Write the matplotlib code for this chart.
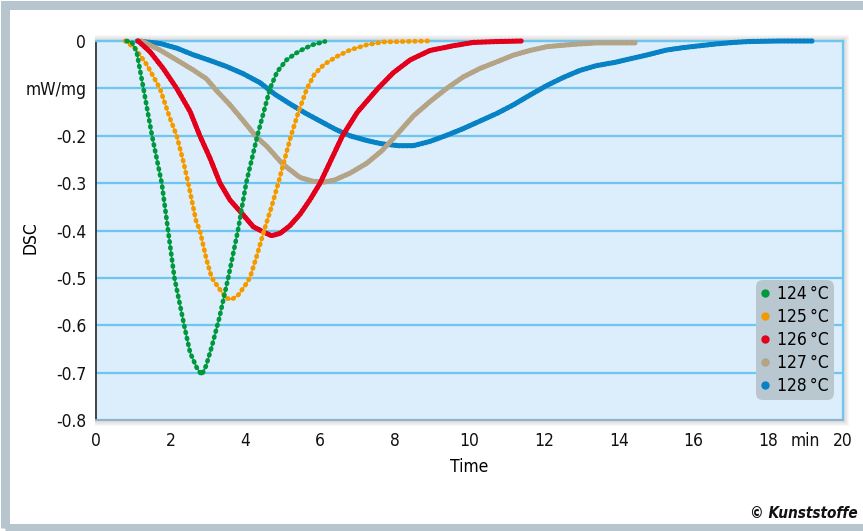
import matplotlib
matplotlib.use('Agg')
import numpy as np
import matplotlib.pyplot as plt
import matplotlib.patheffects as pe
from matplotlib.patches import Rectangle
from matplotlib.lines import Line2D

plt.rcParams['font.family'] = ['DejaVu Sans']
plt.rcParams['font.stretch'] = 'condensed'

# DSC curves, time in min, heat flow in mW/mg
t_124 = [0.82, 0.96, 1.09, 1.17, 1.27, 1.5, 1.76, 1.93, 2.1, 2.36, 2.52, 2.7, 2.83,
         2.95, 3.1, 3.3, 3.54, 3.8, 4.02, 4.32, 4.66, 4.85, 5.1, 5.35, 5.55, 5.8, 6.13]
dsc_124 = [0, -0.002, -0.023, -0.058, -0.1, -0.2, -0.3, -0.4, -0.5, -0.6, -0.658, -0.69, -0.705,
           -0.685, -0.645, -0.585, -0.5, -0.4, -0.3, -0.2, -0.1, -0.065, -0.04, -0.026, -0.017, -0.008, -0.001]

t_125 = [0.78, 1.04, 1.36, 1.71, 1.98, 2.16, 2.34, 2.47, 2.68, 2.78, 2.96, 3.1, 3.32, 3.5, 3.63,
         3.81, 4.0, 4.12, 4.3, 4.5, 4.7, 4.88, 5.05, 5.22, 5.42, 5.65, 5.85, 6.1, 6.44, 6.8,
         7.25, 7.7, 8.3, 8.9]
dsc_125 = [0, -0.015, -0.05, -0.1, -0.163, -0.2, -0.255, -0.3, -0.38, -0.4, -0.462, -0.5, -0.525,
           -0.543, -0.546, -0.536, -0.515, -0.5, -0.455, -0.4, -0.35, -0.3, -0.25, -0.2, -0.15,
           -0.1, -0.07, -0.05, -0.033, -0.019, -0.008, -0.002, -0.001, 0]

t_126 = [1.13, 1.45, 1.8, 2.16, 2.52, 2.78, 3.05, 3.32, 3.59, 3.94, 4.21, 4.48, 4.7, 4.93, 5.19,
         5.46, 5.73, 6.0, 6.3, 6.6, 7.0, 7.55, 7.96, 8.41, 8.94, 9.57, 10.1, 10.8, 11.4]
dsc_126 = [0, -0.023, -0.058, -0.1, -0.149, -0.2, -0.247, -0.3, -0.336, -0.367, -0.392, -0.403,
           -0.411, -0.406, -0.39, -0.366, -0.335, -0.3, -0.25, -0.2, -0.15, -0.1, -0.067, -0.04,
           -0.02, -0.01, -0.003, -0.001, 0]

t_127 = [1.22, 1.71, 2.16, 2.6, 2.96, 3.23, 3.59, 3.94, 4.3, 4.57, 5.0, 5.46, 5.8, 6.1, 6.4, 6.8,
         7.25, 7.65, 8.05, 8.5, 8.94, 9.39, 9.83, 10.28, 10.73, 11.17, 11.62, 12.07, 12.78,
         13.4, 14.43]
dsc_127 = [0, -0.019, -0.04, -0.061, -0.08, -0.105, -0.135, -0.168, -0.203, -0.222, -0.26, -0.288,
           -0.296, -0.298, -0.293, -0.279, -0.258, -0.232, -0.198, -0.158, -0.128, -0.1, -0.076,
           -0.058, -0.044, -0.03, -0.02, -0.012, -0.007, -0.004, -0.004]

t_128 = [1.1, 1.71, 2.16, 2.6, 3.05, 3.5, 3.94, 4.39, 4.8, 5.2, 5.6, 6.0, 6.4, 6.8, 7.25, 7.65,
         8.1, 8.5, 8.94, 9.39, 9.83, 10.28, 10.73, 11.17, 11.62, 12.07, 12.51, 12.96, 13.4,
         13.9, 14.39, 14.83, 15.28, 15.72, 16.17, 16.62, 17.07, 17.51, 18.3, 19.2]
dsc_128 = [0, -0.005, -0.015, -0.029, -0.041, -0.054, -0.069, -0.088, -0.113, -0.133, -0.152,
           -0.169, -0.186, -0.2, -0.21, -0.217, -0.221, -0.221, -0.212, -0.199, -0.185, -0.169,
           -0.153, -0.135, -0.114, -0.094, -0.077, -0.062, -0.052, -0.045, -0.036, -0.028,
           -0.019, -0.014, -0.01, -0.006, -0.003, -0.001, 0, 0]

labels = ['124\u2009°C', '125\u2009°C', '126\u2009°C', '127\u2009°C', '128\u2009°C']
colors = ['#00983f', '#f39a00', '#e3001b', '#b4a385', '#0782c4']
series = [(t_124, dsc_124), (t_125, dsc_125), (t_126, dsc_126), (t_127, dsc_127), (t_128, dsc_128)]

y_ticks = [0, -0.1, -0.2, -0.3, -0.4, -0.5, -0.6, -0.7, -0.8]
y_ticklabels = ['0', 'mW/mg', '-0.2', '-0.3', '-0.4', '-0.5', '-0.6', '-0.7', '-0.8']
x_ticks = [0, 2, 4, 6, 8, 10, 12, 14, 16, 18, 19, 20]
x_ticklabels = ['0', '2', '4', '6', '8', '10', '12', '14', '16', '18', 'min', '20']

W, H = 863, 531
fig = plt.figure(figsize=(W / 100, H / 100), dpi=100)


def box(l, t, r, b):
    return [l / W, 1 - b / H, (r - l) / W, (b - t) / H]


# grey outer frame
fig.patches.append(Rectangle((5 / W, 1 - 528 / H), 880 / W, 523 / H, transform=fig.transFigure,
                             fill=False, edgecolor='#b6c5ce', lw=6.5, zorder=-2))

L, T, R, B = 96, 41, 843, 420
# soft shadow round the plot area
for d in range(1, 7):
    x0, y0, w, h = box(L - 1, T - d, R + d, B + d)
    fig.patches.append(Rectangle((x0, y0), w, h, transform=fig.transFigure,
                                 facecolor='#555555', edgecolor='none', alpha=0.045, zorder=-1))

ax = fig.add_axes(box(L, T, R, B))
ax.set_facecolor('#dcedfb')
ax.set_xlim(0, 20)
ax.set_ylim(-0.8, 0)
ax.set_yticks(y_ticks)
ax.set_yticklabels(y_ticklabels)
ax.set_xticks(x_ticks)
ax.set_xticklabels(x_ticklabels)
ax.tick_params(length=0, labelsize=12.5, colors='#111111')
ax.tick_params(axis='y', pad=7)
ax.tick_params(axis='x', pad=9)
ax.yaxis.grid(True, color='#6cc6ef', lw=1.6)
ax.set_axisbelow(True)
for side in ['top', 'right']:
    ax.spines[side].set_color('#6cc6ef')
    ax.spines[side].set_linewidth(1.6)
ax.spines['bottom'].set_color('#8fb3cc')
ax.spines['bottom'].set_linewidth(1.4)
ax.spines['left'].set_color('#2a2a2a')
ax.spines['left'].set_linewidth(1.2)

ax.set_xlabel('Time', fontsize=12.5)
ax.xaxis.set_label_coords(0.5, -0.1)
ax.text(-0.088, 0.48, 'DSC', rotation=90, ha='center', va='center', fontsize=12.5,
        transform=ax.transAxes)

# fitted curve underneath, measured points (dotted) on top, back to front
halo = [pe.Stroke(linewidth=2.0, foreground='white', alpha=0.8), pe.Normal()]
for i in [4, 3, 2, 1, 0]:
    t, v = series[i]
    if i < 2:
        lw, dots = 3.4, (0, (0.2, 1.1))
    else:
        lw, dots = 3.7, (0, (0.3, 0.45))
    z = 3 + 0.1 * (4 - i)
    ax.plot(t, v, color=colors[i], lw=0.9, path_effects=None if i == 0 else halo,
            clip_on=False, zorder=z)
    ax.plot(t, v, color=colors[i], lw=lw, ls=dots, dash_capstyle='round',
            clip_on=False, zorder=z + 0.05)

handles = [Line2D([], [], ls='none', marker='o', ms=5, color=c) for c in colors]
leg = ax.legend(handles, labels, loc='lower right', bbox_to_anchor=(0.985, 0.06),
                borderaxespad=0, fontsize=12.5, frameon=True, fancybox=True, framealpha=1,
                facecolor='#b8c7d0', edgecolor='none', handlelength=0.5, handletextpad=0.45,
                labelspacing=0.28, borderpad=0.15)
leg.get_frame().set_boxstyle('round,pad=0.15,rounding_size=0.4')

fig.text(858 / W, 1 - 514 / H, '© Kunststoffe', ha='right', va='center', fontsize=11,
         fontweight='bold', style='italic', color='#111111')

fig.savefig('out.png', dpi=100)
